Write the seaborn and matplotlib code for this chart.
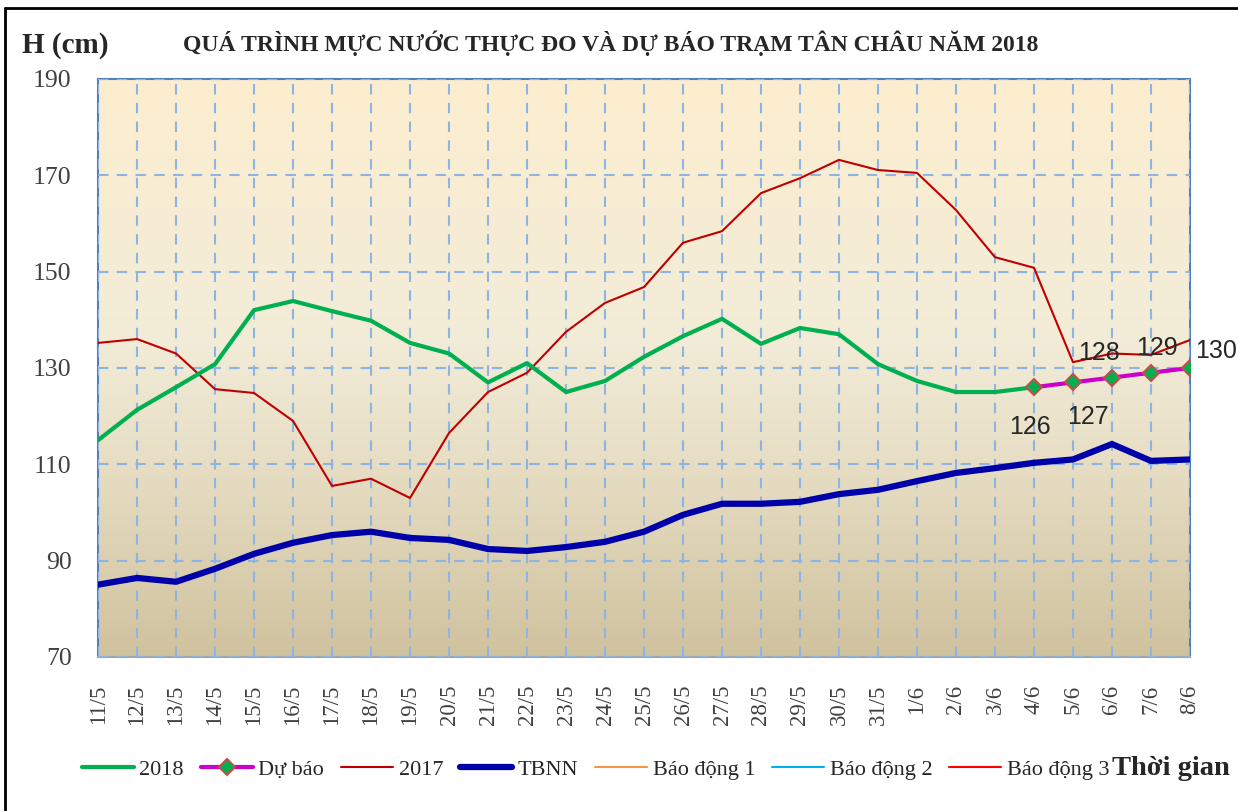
# Water level chart - Tan Chau station 2018
import numpy as np
import seaborn as sns
import matplotlib.pyplot as plt
from matplotlib.colors import LinearSegmentedColormap
from matplotlib.lines import Line2D

sns.set_style("white")
plt.rcParams['font.family'] = ['Liberation Serif', 'DejaVu Serif']

# Data
days = ['11/5', '12/5', '13/5', '14/5', '15/5', '16/5', '17/5', '18/5', '19/5', '20/5',
        '21/5', '22/5', '23/5', '24/5', '25/5', '26/5', '27/5', '28/5', '29/5', '30/5',
        '31/5', '1/6', '2/6', '3/6', '4/6', '5/6', '6/6', '7/6', '8/6']
h2018 = [115, 121.3, 126, 130.8, 142, 143.9, 141.8, 139.8, 135.2, 133,
         127, 131, 125, 127.3, 132.3, 136.6, 140.2, 135, 138.3, 137,
         130.8, 127.3, 125, 125, 126]
du_bao = [126, 127, 128, 129, 130]
h2017 = [135.2, 136, 133, 125.6, 124.8, 119, 105.5, 107, 103, 116.5,
         125, 129, 137.5, 143.5, 146.8, 156, 158.4, 166.3, 169.4, 173.2,
         171.1, 170.5, 162.8, 153, 150.8, 131.2, 133, 132.7, 135.8]
tbnn = [85, 86.4, 85.6, 88.3, 91.4, 93.7, 95.3, 96, 94.7, 94.3,
        92.4, 92, 92.8, 93.9, 96, 99.5, 101.8, 101.8, 102.2, 103.8,
        104.7, 106.5, 108.2, 109.2, 110.3, 111, 114.2, 110.7, 111]
# alarm levels (cm), above the visible range
bao_dong = [350, 400, 450]

idx = np.arange(len(days))
idx_fc = idx[-len(du_bao):]

fig = plt.figure(figsize=(12.38, 8.11), dpi=100)
ax = fig.add_axes([0.0792, 0.19, 0.882, 0.7126])

# gradient background
cmap = LinearSegmentedColormap.from_list(
    'bg', [(0, '#D0C29E'), (0.35, '#E8DFC6'), (0.55, '#F2ECD8'), (1, '#FDEECF')])
grad = np.linspace(0, 1, 256).reshape(-1, 1)
ax.imshow(grad, cmap=cmap, origin='lower', aspect='auto',
          extent=[0, len(days) - 1, 70, 190], zorder=0)

for lvl, c, lab in zip(bao_dong, ['#F79646', '#00B0F0', '#FF0000'],
                       ['Báo động 1', 'Báo động 2', 'Báo động 3']):
    ax.plot(idx, [lvl] * len(idx), color=c, lw=1.5, label=lab)

sns.lineplot(x=idx[:len(h2018)], y=h2018, ax=ax, color='#00B050', lw=3, label='2018', zorder=4)
sns.lineplot(x=idx_fc, y=du_bao, ax=ax, color='#CC00CC', lw=3, label='Dự báo',
             marker='D', markersize=8, markerfacecolor='#00B050',
             markeredgecolor='#C0504D', markeredgewidth=1.5, zorder=5)
sns.lineplot(x=idx, y=h2017, ax=ax, color='#C00000', lw=1.5, label='2017', zorder=3)
sns.lineplot(x=idx, y=tbnn, ax=ax, color='#0000AA', lw=4.5, label='TBNN', zorder=4)

# value labels on forecast
offsets = [(-3, -29), (11, -25), (-9, 18), (4, 18), (19, 12)]
for x, v, off in zip(idx_fc, du_bao, offsets):
    ax.annotate(f'{v}', (x, v), xytext=off, textcoords='offset points',
                ha='center', va='center', fontsize=18, family='Liberation Sans', zorder=6)

ax.set_xlim(0, len(days) - 1)
ax.set_ylim(70, 190)
ax.set_yticks(range(70, 191, 20))
ax.set_xticks(idx)
ax.set_xticklabels(days, rotation=90, fontsize=16.5, color='#404040')
ax.tick_params(axis='y', labelsize=18.5, colors='#404040', length=0, pad=19)
ax.tick_params(axis='x', length=0, pad=20)
ax.grid(True, color='#8DB4E2', lw=1.5, ls=(0, (5, 4)), zorder=1)
ax.set_axisbelow(False)
for g in ax.get_xgridlines() + ax.get_ygridlines():
    g.set_zorder(1)
for s in ['top', 'right', 'left']:
    ax.spines[s].set_color('#4F81BD')
    ax.spines[s].set_linewidth(1.5)
ax.spines['bottom'].set_color('#A6A6A6')
ax.spines['bottom'].set_linewidth(1.5)

# legend
handles, labels = ax.get_legend_handles_labels()
order = ['2018', 'Dự báo', '2017', 'TBNN', 'Báo động 1', 'Báo động 2', 'Báo động 3']
hmap = dict(zip(labels, handles))
ax.get_legend().remove()
fig.legend([hmap[k] for k in order], order, loc='center left', bbox_to_anchor=(0.066, 0.051),
           ncol=7, frameon=False, fontsize=16, handlelength=2.35, columnspacing=0.75,
           handletextpad=0.25, numpoints=1, borderpad=0, borderaxespad=0)

fig.text(0.493, 0.947, 'QUÁ TRÌNH MỰC NƯỚC THỰC ĐO VÀ DỰ BÁO TRẠM TÂN CHÂU NĂM 2018',
         ha='center', va='center', fontsize=17, fontweight='bold', color='#262626')
fig.text(0.018, 0.944, 'H (cm)', ha='left', va='center', fontsize=21,
         fontweight='bold', color='#262626')
fig.text(0.898, 0.053, 'Thời gian', ha='left', va='center', fontsize=20.5,
         fontweight='bold', color='#262626')

# outer frame (top and left)
fig.add_artist(Line2D([0.004, 1], [0.99, 0.99], color='black', lw=2, transform=fig.transFigure))
fig.add_artist(Line2D([0.004, 0.004], [0, 0.99], color='black', lw=2, transform=fig.transFigure))

fig.savefig('out.png', dpi=100)
